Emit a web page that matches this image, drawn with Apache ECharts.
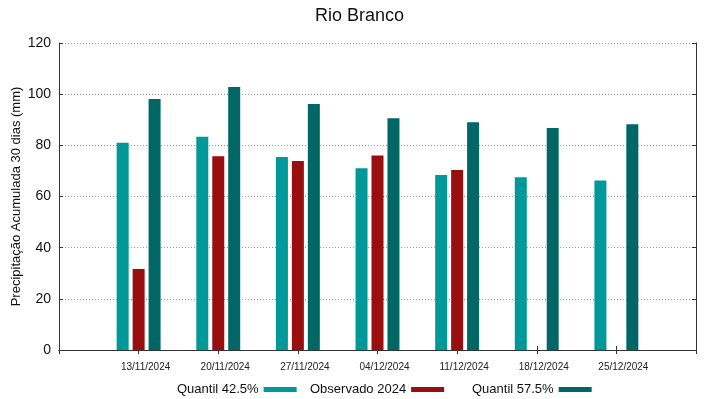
<!DOCTYPE html>
<html>
<head>
<meta charset="utf-8">
<script src="https://cdn.jsdelivr.net/npm/echarts@6/dist/echarts.min.js"></script>
<style>html,body{margin:0;padding:0;background:#fff}#c{width:719px;height:399px}</style>
</head>
<body>
<div id="c"></div>
<script>
var categories = ['13/11/2024','20/11/2024','27/11/2024','04/12/2024','11/12/2024','18/12/2024','25/12/2024'];
var quantil425 = [81.0, 83.4, 75.4, 71.0, 68.4, 67.5, 66.3];
var observado2024 = [31.7, 75.7, 73.9, 76.0, 70.4, null, null];
var quantil575 = [98.1, 102.8, 96.2, 90.6, 89.0, 86.8, 88.2];
var yTicks = [0, 20, 40, 60, 80, 100, 120];

var cats = [''].concat(categories).concat(['']);
function pad(a){ return [null].concat(a).concat([null]); }

var font = 'Liberation Sans, Arial, sans-serif';
var chart = echarts.init(document.getElementById('c'));
chart.setOption({
  animation: false,
  title: { text: 'Rio Branco', left: 'center', top: 2, textStyle: { fontFamily: font, fontSize: 18, fontWeight: 'normal', color: '#111' } },
  grid: { left: 59, right: 23, top: 43, bottom: 49, containLabel: false, outerBoundsMode: 'none' },
  legend: [
    { data: ['Quantil 42.5%'], left: 172, top: 378, align: 'right', itemWidth: 33, itemHeight: 5, icon: 'rect', textStyle: { fontFamily: font, fontSize: 13, color: '#111' } },
    { data: ['Observado 2024'], left: 305, top: 378, align: 'right', itemWidth: 33, itemHeight: 5, icon: 'rect', textStyle: { fontFamily: font, fontSize: 13, color: '#111' } },
    { data: ['Quantil 57.5%'], left: 467, top: 378, align: 'right', itemWidth: 33, itemHeight: 5, icon: 'rect', textStyle: { fontFamily: font, fontSize: 13, color: '#111' } }
  ],
  xAxis: [
    { type: 'category', data: cats, boundaryGap: false, position: 'bottom',
      axisLine: { lineStyle: { color: '#333', width: 1 } },
      axisTick: { inside: true, length: 4, lineStyle: { color: '#333' } },
      axisLabel: { fontFamily: font, fontSize: 10, color: '#222', margin: 12, padding: [0,0,0,14] },
      splitLine: { show: false } },
    { type: 'category', data: cats, boundaryGap: false, position: 'top',
      axisLine: { lineStyle: { color: '#333', width: 1 } },
      axisTick: { inside: true, length: 4, lineStyle: { color: '#333' } },
      axisLabel: { show: false }, splitLine: { show: false } }
  ],
  yAxis: [
    { type: 'value', min: yTicks[0], max: yTicks[yTicks.length-1], interval: 20, position: 'left',
      name: 'Precipitação Acumulada 30 dias (mm)', nameLocation: 'middle', nameGap: 36, nameMoveOverlap: false,
      nameTextStyle: { fontFamily: font, fontSize: 13, color: '#111' },
      axisLine: { show: true, lineStyle: { color: '#333', width: 1 } },
      axisTick: { show: true, inside: true, length: 4, lineStyle: { color: '#333' } },
      axisLabel: { fontFamily: font, fontSize: 14, color: '#111', margin: 8 },
      splitLine: { show: true, lineStyle: { color: '#999', type: [1, 2], width: 1 } } },
    { type: 'value', min: yTicks[0], max: yTicks[yTicks.length-1], interval: 20, position: 'right',
      axisLine: { show: true, lineStyle: { color: '#333', width: 1 } },
      axisTick: { show: true, inside: true, length: 4, lineStyle: { color: '#333' } },
      axisLabel: { show: false }, splitLine: { show: false } }
  ],
  series: [
    { name: 'Quantil 42.5%', type: 'bar', data: pad(quantil425), barWidth: 12, barGap: '33%', itemStyle: { color: '#009999' } },
    { name: 'Observado 2024', type: 'bar', data: pad(observado2024), barWidth: 12, barGap: '33%', itemStyle: { color: '#990f0f' } },
    { name: 'Quantil 57.5%', type: 'bar', data: pad(quantil575), barWidth: 12, barGap: '33%', itemStyle: { color: '#006666' } }
  ]
});
</script>
</body>
</html>
